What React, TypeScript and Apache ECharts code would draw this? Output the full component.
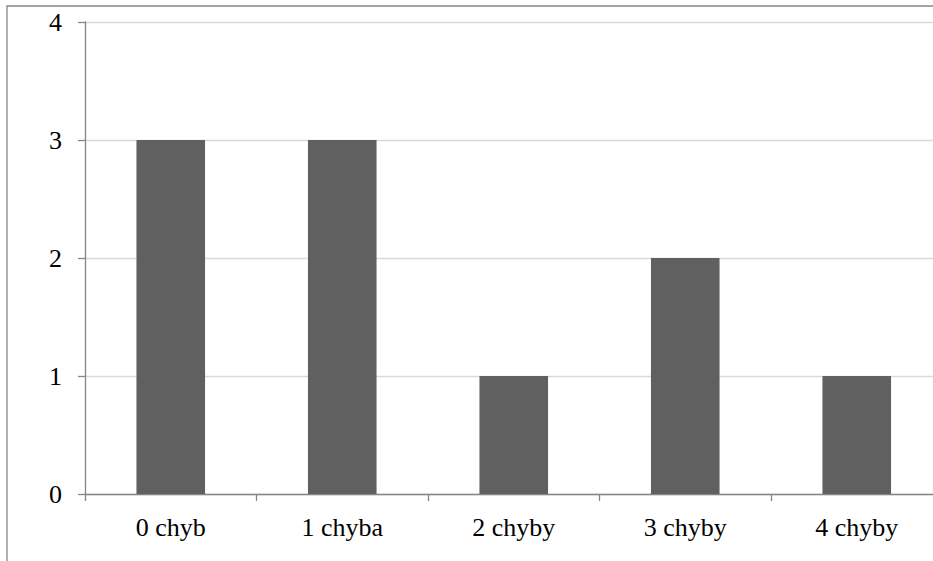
import React, { useEffect, useRef } from "react";
import * as echarts from "echarts";

const categories = ["0 chyb", "1 chyba", "2 chyby", "3 chyby", "4 chyby"];
const values = [3, 3, 1, 2, 1];
const yTicks = { min: 0, max: 4, interval: 1 };

export default function App() {
  const ref = useRef<HTMLDivElement>(null);
  useEffect(() => {
    if (!ref.current) return;
    const chart = echarts.init(ref.current, undefined, { renderer: "svg" });
    const font = "Liberation Serif";
    chart.setOption({
      animation: false,
      backgroundColor: "#ffffff",
      textStyle: { fontFamily: font },
      graphic: [
        {
          type: "rect",
          shape: { x: 7, y: 6, width: 1000, height: 700 },
          style: { fill: "none", stroke: "#878787", lineWidth: 1.3 },
          silent: true,
          z: -1,
        },
      ],
      grid: { left: 85, top: 22, width: 857.5, height: 472, containLabel: false },
      xAxis: {
        type: "category",
        data: categories,
        axisLine: { lineStyle: { color: "#868686", width: 1.3 } },
        axisTick: { show: true, length: 7, alignWithLabel: false, lineStyle: { color: "#868686", width: 1.3 } },
        axisLabel: { color: "#000", fontFamily: font, fontSize: 26, margin: 20 },
        splitLine: { show: false },
      },
      yAxis: {
        type: "value",
        min: yTicks.min,
        max: yTicks.max,
        interval: yTicks.interval,
        axisLine: { show: true, lineStyle: { color: "#868686", width: 1.3 } },
        axisTick: { show: true, length: 7, lineStyle: { color: "#868686", width: 1.3 } },
        axisLabel: { color: "#000", fontFamily: font, fontSize: 26, margin: 23 },
        splitLine: { show: true, lineStyle: { color: "#d9d9d9", width: 1.3 } },
      },
      series: [
        {
          type: "bar",
          data: values,
          barWidth: "40%",
          itemStyle: { color: "#606060" },
        },
      ],
    });
    return () => chart.dispose();
  }, []);
  return (
    <div
      style={{ position: "fixed", left: 0, top: 0, width: 933, height: 561, overflow: "hidden", background: "#fff" }}
    >
      <div ref={ref} style={{ width: 960, height: 561 }} />
    </div>
  );
}
